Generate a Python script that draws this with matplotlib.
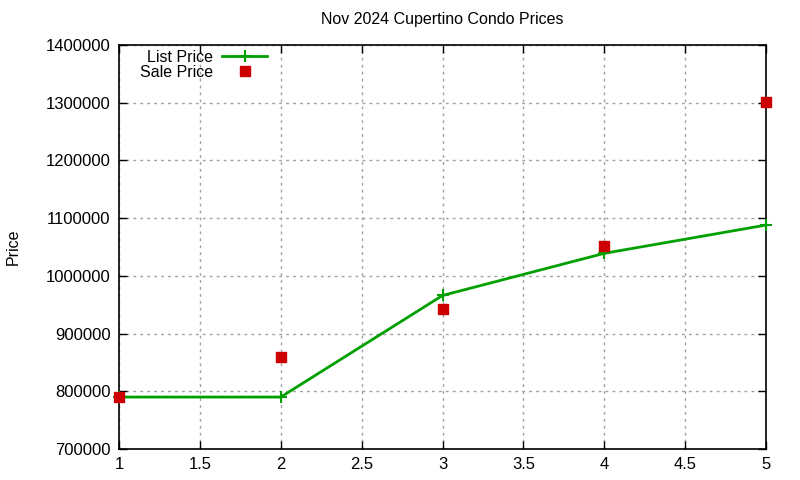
import numpy as np
import matplotlib
matplotlib.use('Agg')
font = {'family': ['Liberation Sans', 'DejaVu Sans'],
        'size': 12}
matplotlib.rc('font', **font)
from matplotlib import pyplot as plt

# data
units = [1, 2, 3, 4, 5]
list_price = [790000, 790000, 966000, 1039000, 1088000]
sale_price = [790000, 860000, 943000, 1051000, 1301000]

xticks = np.arange(1, 5.01, 0.5)
yticks = np.arange(700000, 1400001, 100000)

fig = plt.figure(figsize=(8, 4.8), dpi=100)
ax = fig.add_axes([119/800, 31/480, 647/800, 404/480])

ax.plot(units, list_price, '-', color='#00a000', linewidth=2,
        marker='+', markersize=8, markeredgewidth=1.5,
        label='List Price', clip_on=False, zorder=3)
ax.plot(units, sale_price, 's', color='#cc0000', markersize=7,
        linestyle='none', label='Sale Price', clip_on=False, zorder=4)

ax.set_xlim(1, 5)
ax.set_ylim(700000, 1400000)
ax.set_xticks(xticks)
ax.set_xticklabels(['1', '1.5', '2', '2.5', '3', '3.5', '4', '4.5', '5'])
ax.set_yticks(yticks)
ax.set_yticklabels([str(int(v)) for v in yticks])

ax.grid(True, color='#a0a0a0', linestyle=(0, (2, 3)), linewidth=1)
ax.tick_params(direction='in', top=True, right=True, width=1, length=6,
               labelsize=12, pad=6)
for s in ax.spines.values():
    s.set_linewidth(1.2)

ax.set_title('Nov 2024 Cupertino Condo Prices', fontsize=11.5, pad=15)
ax.set_ylabel('Price', fontsize=11.5, labelpad=18)

leg = ax.legend(loc='upper right', bbox_to_anchor=(0.236, 1.0),
                markerfirst=False, frameon=False, handlelength=2.8,
                borderaxespad=0, borderpad=0.3, labelspacing=0.0,
                handletextpad=0.55, fontsize=11.5)

fig.savefig('out.png', dpi=100)
